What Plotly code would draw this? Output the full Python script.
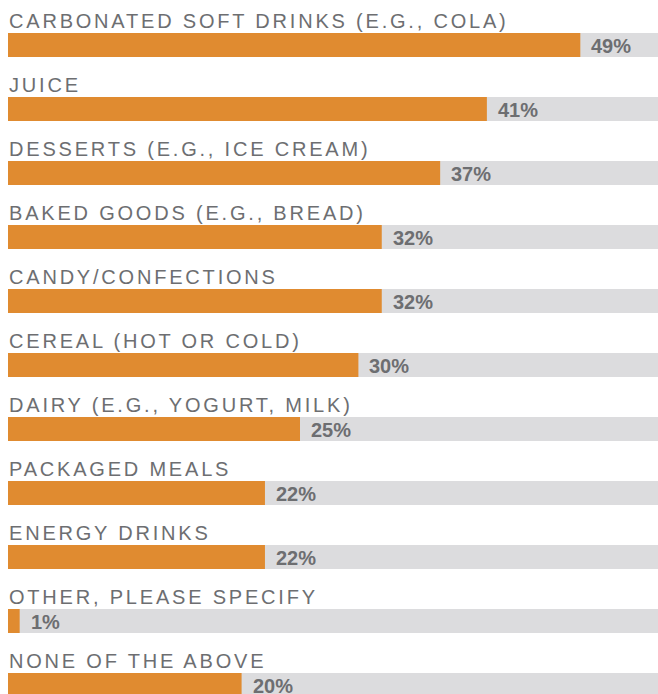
import plotly.graph_objects as go

# Survey categories and share of respondents (%)
categories = [
    "CARBONATED SOFT DRINKS (E.G., COLA)",
    "JUICE",
    "DESSERTS (E.G., ICE CREAM)",
    "BAKED GOODS (E.G., BREAD)",
    "CANDY/CONFECTIONS",
    "CEREAL (HOT OR COLD)",
    "DAIRY (E.G., YOGURT, MILK)",
    "PACKAGED MEALS",
    "ENERGY DRINKS",
    "OTHER, PLEASE SPECIFY",
    "NONE OF THE ABOVE",
]
values = [49, 41, 37, 32, 32, 30, 25, 22, 22, 1, 20]
value_labels = [f"{v}%" for v in values]
track_total = [100] * len(categories)

ORANGE = "#E08B30"
TRACK = "#DCDCDE"
TEXT = "#6D6E71"
W, H = 658, 694

px_per_pct = 11.68
left_px = 8
row_px = 64
first_center_px = 45
bar_px = 24

idx = list(range(len(categories)))

fig = go.Figure()
fig.add_trace(go.Bar(
    y=idx, x=track_total, orientation="h", marker=dict(color=TRACK, line=dict(width=0)),
    width=bar_px / row_px, hoverinfo="skip", showlegend=False,
))
fig.add_trace(go.Bar(
    y=idx, x=values, orientation="h", marker=dict(color=ORANGE, line=dict(width=0)),
    width=bar_px / row_px, showlegend=False,
))

annotations = []
for i, (cat, v, lab) in enumerate(zip(categories, values, value_labels)):
    annotations.append(dict(
        x=0, y=i, xref="x", yref="y", text=cat, showarrow=False,
        xanchor="left", yanchor="middle", yshift=24, xshift=-1,
        font=dict(family="Liberation Sans, Arial, sans-serif", size=20, color=TEXT),
    ))
    annotations.append(dict(
        x=v, y=i, xref="x", yref="y", text=lab, showarrow=False,
        xanchor="left", yanchor="middle", xshift=9, yshift=-1,
        font=dict(family="Liberation Sans, Arial, sans-serif",
                  size=20, color=TEXT, weight="bold"),
    ))

fig.update_layout(
    width=W, height=H,
    margin=dict(l=0, r=0, t=0, b=0),
    paper_bgcolor="white", plot_bgcolor="white",
    barmode="overlay",
    xaxis=dict(range=[-left_px / px_per_pct, (W - left_px) / px_per_pct],
               visible=False, fixedrange=True),
    yaxis=dict(range=[(H - first_center_px) / row_px, -first_center_px / row_px],
               visible=False, fixedrange=True),
    annotations=annotations,
)

# Wide tracking on the category captions, keeping their left edge fixed
tracking_js = """
var gd = document.getElementById('{plot_id}');
function applyTracking() {
  gd.querySelectorAll('.annotation-text').forEach(function (t) {
    if (t.textContent.indexOf('%') >= 0 || t.getAttribute('data-tracked')) { return; }
    var w0 = t.getComputedTextLength();
    var x0 = parseFloat(t.getAttribute('x')) || 0;
    var anchor = t.getAttribute('text-anchor');
    var left = anchor === 'middle' ? x0 - w0 / 2 : (anchor === 'end' ? x0 - w0 : x0);
    t.setAttribute('text-anchor', 'start');
    t.setAttribute('x', left);
    t.style.letterSpacing = '2.8px';
    t.setAttribute('data-tracked', '1');
  });
}
applyTracking();
if (gd.on) { gd.on('plotly_afterplot', applyTracking); }
"""

fig.write_html("out.html", config={"displayModeBar": False}, post_script=tracking_js)
